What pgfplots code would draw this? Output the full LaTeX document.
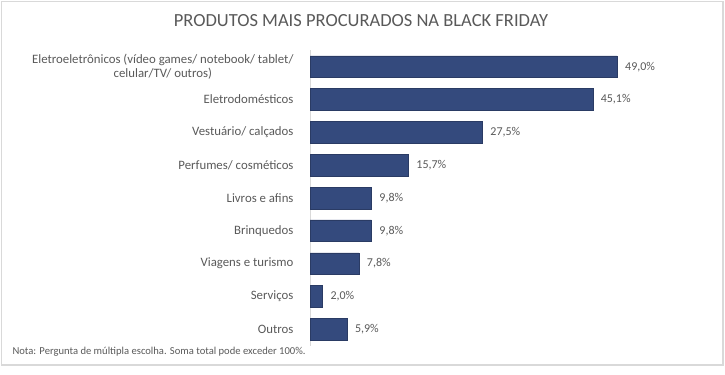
\documentclass[border=0pt]{standalone}
\usepackage{pgfplots}
\pgfplotsset{compat=1.18}
\usepackage{fontspec}
\setmainfont{Carlito}
\definecolor{barblue}{RGB}{52,74,125}
\definecolor{txtgray}{RGB}{89,89,89}
\definecolor{bordergray}{RGB}{217,217,217}
\begin{document}
\begin{tikzpicture}[x=1bp,y=1bp]
\path[use as bounding box] (0,0) rectangle (725,374);
\draw[bordergray,line width=1.5bp] (1.5,9) rectangle (723,372.5);
\node[txtgray,font=\fontsize{18.5bp}{21bp}\selectfont] at (361,353.5) {PRODUTOS MAIS PROCURADOS NA BLACK FRIDAY};
\node[txtgray,font=\fontsize{10.6bp}{13bp}\selectfont,anchor=west] at (9,22) {Nota: Pergunta de múltipla escolha. Soma total pode exceder 100\%.};
\begin{axis}[
  at={(310bp,28.3bp)}, anchor=south west,
  scale only axis,
  width=388.7bp, height=295.4bp,
  xbar, bar width=21.7bp,
  xmin=0, xmax=62,
  ymin=-0.5, ymax=8.5,
  y dir=reverse,
  ytick={0,...,8},
  yticklabels={{Eletroeletrônicos (vídeo games/ notebook/ tablet/\\celular/TV/ outros)},Eletrodomésticos,{Vestuário/ calçados},{Perfumes/ cosméticos},Livros e afins,Brinquedos,Viagens e turismo,Serviços,Outros},
  yticklabel style={align=center,text=txtgray,font=\fontsize{12.8bp}{14.8bp}\selectfont,xshift=-13bp},
  major tick length=0pt,
  xtick=\empty,
  axis x line=none,
  axis y line*=left,
  y axis line style={bordergray,line width=1bp,-},
  /pgf/number format/assume math mode=true,
  nodes near coords={\pgfmathprintnumber[fixed,fixed zerofill,precision=1,use comma,assume math mode=true]{\pgfplotspointmeta}\%},
  nodes near coords style={text=txtgray,font=\fontsize{12bp}{14bp}\selectfont,xshift=4.5bp},
  point meta=x,
]
\addplot[fill=barblue,draw=barblue!80!black,line width=0.4bp] coordinates {
(49.0,0) (45.1,1) (27.5,2) (15.7,3) (9.8,4) (9.8,5) (7.8,6) (2.0,7) (5.9,8)};
\end{axis}
\end{tikzpicture}
\end{document}
